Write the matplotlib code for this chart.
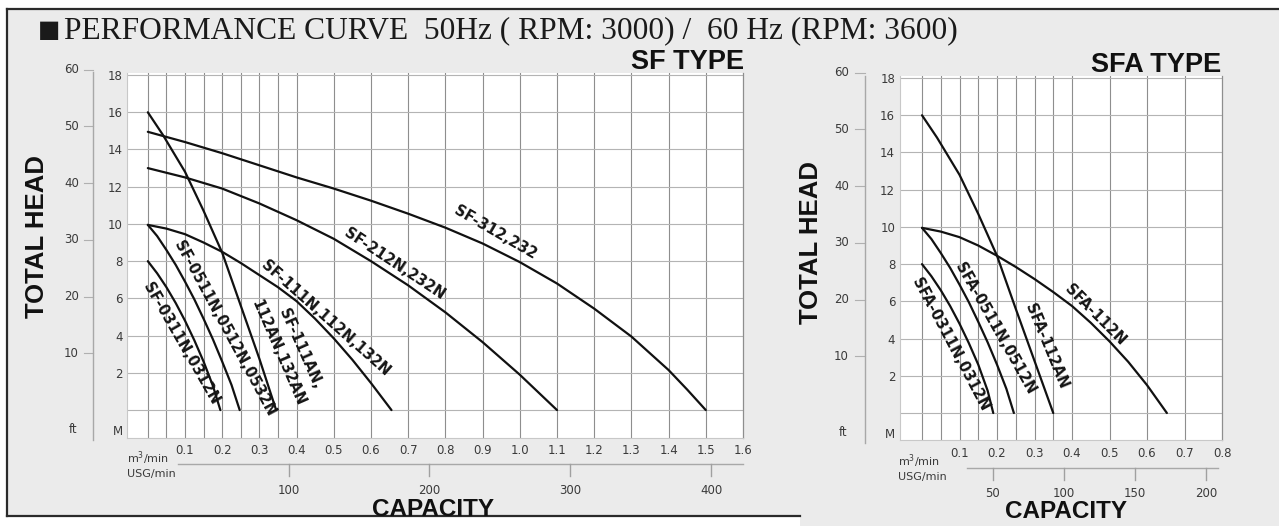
import matplotlib
matplotlib.use('Agg')
import matplotlib.pyplot as plt
from matplotlib.transforms import blended_transform_factory as blend
from matplotlib.lines import Line2D
from matplotlib.patches import Rectangle

# ---------------- data (m3/min , m) ----------------
# SF TYPE
sf312_q = [0, 0.1, 0.2, 0.3, 0.4, 0.5, 0.6, 0.7, 0.8, 0.9, 1.0, 1.1, 1.2, 1.3, 1.4, 1.45, 1.5]
sf312_h = [14.95, 14.4, 13.8, 13.15, 12.5, 11.9, 11.25, 10.55, 9.8, 8.95, 7.95, 6.8, 5.45, 3.95, 2.15, 1.1, 0]
sf212_q = [0, 0.1, 0.2, 0.3, 0.4, 0.5, 0.6, 0.7, 0.8, 0.9, 1.0, 1.05, 1.1]
sf212_h = [13.0, 12.5, 11.9, 11.1, 10.2, 9.2, 8.0, 6.7, 5.25, 3.65, 1.9, 0.95, 0]
sf111n_q = [0, 0.05, 0.1, 0.15, 0.2, 0.25, 0.3, 0.35, 0.4, 0.45, 0.5, 0.55, 0.6, 0.655]
sf111n_h = [9.95, 9.75, 9.45, 9.0, 8.5, 7.9, 7.25, 6.6, 5.85, 4.9, 3.85, 2.7, 1.45, 0]
sf111an_q = [0, 0.04, 0.1, 0.15, 0.2, 0.25, 0.3, 0.345]
sf111an_h = [16.0, 14.8, 12.8, 10.7, 8.45, 5.6, 2.75, 0]
sf0511_q = [0, 0.025, 0.05, 0.075, 0.1, 0.125, 0.15, 0.175, 0.2, 0.225, 0.247]
sf0511_h = [9.95, 9.35, 8.6, 7.8, 6.9, 5.95, 4.9, 3.8, 2.6, 1.35, 0]
sf0311_q = [0, 0.025, 0.05, 0.075, 0.1, 0.125, 0.15, 0.175, 0.195]
sf0311_h = [8.0, 7.35, 6.6, 5.75, 4.8, 3.75, 2.6, 1.3, 0]

# SFA TYPE
sfa112n_q = [0, 0.05, 0.1, 0.15, 0.2, 0.25, 0.3, 0.35, 0.4, 0.45, 0.5, 0.55, 0.6, 0.653]
sfa112n_h = [9.95, 9.75, 9.45, 9.0, 8.45, 7.85, 7.2, 6.5, 5.75, 4.85, 3.85, 2.75, 1.5, 0]
sfa112an_q = [0, 0.04, 0.1, 0.15, 0.2, 0.25, 0.3, 0.35]
sfa112an_h = [16.0, 14.8, 12.8, 10.7, 8.45, 5.6, 2.8, 0]
sfa0511_q = [0, 0.025, 0.05, 0.075, 0.1, 0.125, 0.15, 0.175, 0.2, 0.225, 0.245]
sfa0511_h = [9.95, 9.35, 8.6, 7.8, 6.9, 5.95, 4.9, 3.8, 2.6, 1.3, 0]
sfa0311_q = [0, 0.025, 0.05, 0.075, 0.1, 0.125, 0.15, 0.175, 0.19]
sfa0311_h = [8.0, 7.35, 6.6, 5.75, 4.8, 3.75, 2.6, 1.2, 0]

sf_names = ["SF-312,232", "SF-212N,232N", "SF-111N,112N,132N",
            "SF-111AN,", "112AN,132AN", "SF-0511N,0512N,0532N", "SF-0311N,0312N"]
sfa_names = ["SFA-112N", "SFA-112AN", "SFA-0511N,0512N", "SFA-0311N,0312N"]

m_ticks = [2, 4, 6, 8, 10, 12, 14, 16, 18]
ft_ticks = [10, 20, 30, 40, 50, 60]
sf_q_ticks = [0.1, 0.2, 0.3, 0.4, 0.5, 0.6, 0.7, 0.8, 0.9, 1.0, 1.1, 1.2, 1.3, 1.4, 1.5, 1.6]
sf_q_labels = ["0.1", "0.2", "0.3", "0.4", "0.5", "0.6", "0.7", "0.8", "0.9", "1.0",
               "1.1", "1.2", "1.3", "1.4", "1.5", "1.6"]
sfa_q_ticks = [0.1, 0.2, 0.3, 0.4, 0.5, 0.6, 0.7, 0.8]
sfa_q_labels = ["0.1", "0.2", "0.3", "0.4", "0.5", "0.6", "0.7", "0.8"]
sf_usg_ticks = [100, 200, 300, 400]
sfa_usg_ticks = [50, 100, 150, 200]

USG_TO_M3 = 0.0037854
FT_TO_M = 0.3048

# ---------------- figure ----------------
W, H = 1279, 526
fig = plt.figure(figsize=(W / 100, H / 100), dpi=100)
BG = '#ebebeb'
fig.patch.set_facecolor(BG)


def fx(px):
    return px / W


def fy(py):
    return 1 - py / H


# white margins and frame
fig.add_artist(Rectangle((0, fy(9)), 1, 9 / H, transform=fig.transFigure,
                         facecolor='white', edgecolor='none', zorder=0))
fig.add_artist(Rectangle((0, 0), fx(7), 1, transform=fig.transFigure,
                         facecolor='white', edgecolor='none', zorder=0))
fig.add_artist(Rectangle((0, 0), fx(800), fy(516), transform=fig.transFigure,
                         facecolor='white', edgecolor='none', zorder=0))
frame_kw = dict(transform=fig.transFigure, color='#2a2a2a', lw=1.6)
fig.add_artist(Line2D([fx(7), 1], [fy(9), fy(9)], **frame_kw))
fig.add_artist(Line2D([fx(7), fx(7)], [fy(9), fy(516)], **frame_kw))
fig.add_artist(Line2D([fx(7), fx(800)], [fy(516), fy(516)], **frame_kw))

# main title
fig.text(fx(38), fy(37), "\u25A0", fontsize=17, family='DejaVu Sans', color='#1a1a1a',
         ha='left', va='baseline')
fig.text(fx(64), fy(38), "PERFORMANCE CURVE  50Hz ( RPM: 3000) /  60 Hz (RPM: 3600)",
         fontsize=22.7, family='Liberation Serif', color='#1a1a1a', ha='left', va='baseline')

GRID_V = '#8e8e8e'
GRID_H = '#b4b4b4'


def make_panel(left, top, right, bottom, xlim, ylim, vgrid, xt, xl, ypad, xpad):
    ax = fig.add_axes([fx(left), fy(bottom), (right - left) / W, (bottom - top) / H])
    ax.set_facecolor('white')
    ax.set_xlim(*xlim)
    ax.set_ylim(*ylim)
    for v in vgrid:
        ax.axvline(v, color=GRID_V, lw=0.8, zorder=1)
    for h in [0] + m_ticks:
        ax.axhline(h, color=GRID_H, lw=0.8, zorder=1)
    for s in ['left', 'bottom']:
        ax.spines[s].set_color('#c8c8c8')
        ax.spines[s].set_linewidth(0.8)
    ax.spines['top'].set_visible(False)
    ax.spines['right'].set_color(GRID_V)
    ax.spines['right'].set_linewidth(0.9)
    ax.set_xticks(xt)
    ax.set_xticklabels(xl, fontsize=8.5, color='#3a3a3a', family='DejaVu Sans')
    ax.tick_params(axis='x', length=0, pad=xpad)
    ax.set_yticks(m_ticks + [-1.05])
    ax.set_yticklabels([str(v) for v in m_ticks] + ['M'], fontsize=8.5,
                       color='#3a3a3a', family='DejaVu Sans')
    ax.tick_params(axis='y', length=0, pad=ypad)
    return ax


def ft_axis(ax, left, width, bottom, height, lab_px, tick0_px, line_px, top_line_px, bot_line_px):
    tr = blend(ax.transAxes, ax.transData)
    f = lambda px: (px - left) / width
    for v in ft_ticks:
        m = v * FT_TO_M
        ax.text(f(lab_px), m, str(v), transform=tr, ha='right', va='center', fontsize=8.5,
                color='#3a3a3a', family='DejaVu Sans', clip_on=False)
        ax.add_line(Line2D([f(tick0_px), f(line_px)], [m, m], transform=tr, color='#b0b0b0',
                           lw=0.8, clip_on=False))
    ax.text(f(lab_px - 2), -1.05, 'ft', transform=tr, ha='right', va='center', fontsize=8.5,
            color='#3a3a3a', family='DejaVu Sans', clip_on=False)
    ax.add_line(Line2D([f(line_px), f(line_px)],
                       [(bottom - bot_line_px) / height, (bottom - top_line_px) / height],
                       transform=ax.transAxes, color='#a8a8a8', lw=1.0, clip_on=False))


def usg_axis(ax, bottom, height, line_py, q_start, q_end, usg_ticks, lab_py, left_px, unit_py):
    tr = blend(ax.transData, ax.transAxes)
    yl = (bottom - line_py) / height
    yt = (bottom - line_py - 12) / height
    ylab = (bottom - lab_py) / height
    ax.add_line(Line2D([q_start, q_end], [yl, yl], transform=tr, color='#a8a8a8', lw=1.0,
                       clip_on=False))
    for u in usg_ticks:
        q = u * USG_TO_M3
        ax.add_line(Line2D([q, q], [yl, yt], transform=tr, color='#a0a0a0', lw=1.0,
                           clip_on=False))
        ax.text(q, ylab, str(u), transform=tr, ha='center', va='center', fontsize=8.5,
                color='#3a3a3a', family='DejaVu Sans', clip_on=False)
    fig.text(fx(left_px), fy(unit_py[0]), "m$^3$/min", fontsize=8, color='#3a3a3a',
             family='DejaVu Sans', ha='left', va='center')
    fig.text(fx(left_px), fy(unit_py[1]), "USG/min", fontsize=8, color='#3a3a3a',
             family='DejaVu Sans', ha='left', va='center')


LINE_KW = dict(color='#111111', lw=1.6, zorder=3, solid_capstyle='round',
               solid_joinstyle='round')
LAB_KW = dict(fontsize=10.5, fontweight='bold', family='DejaVu Sans', color='#151515',
              ha='center', va='center', rotation_mode='anchor', zorder=4)

# ---------------- SF TYPE panel ----------------
L1, T1, R1, B1 = 127, 73, 743, 438
ax1 = make_panel(L1, T1, R1, B1, (-0.056, 1.6), (-1.50, 18.11),
                 [0, 0.05, 0.1, 0.15, 0.2, 0.25, 0.3, 0.35, 0.4, 0.5, 0.6, 0.7, 0.8, 0.9,
                  1.0, 1.1, 1.2, 1.3, 1.4, 1.5],
                 sf_q_ticks, sf_q_labels, ypad=3, xpad=4.5)
for q, h in [(sf312_q, sf312_h), (sf212_q, sf212_h), (sf111n_q, sf111n_h),
             (sf111an_q, sf111an_h), (sf0511_q, sf0511_h), (sf0311_q, sf0311_h)]:
    ax1.plot(q, h, **LINE_KW)

ax1.text(0.933, 9.55, sf_names[0], rotation=-30, **LAB_KW)
ax1.text(0.662, 7.85, sf_names[1], rotation=-33.5, **LAB_KW)
ax1.text(0.479, 4.94, sf_names[2], rotation=-41.5, **LAB_KW)
ax1.text(0.409, 3.3, sf_names[3], rotation=-66, **LAB_KW)
ax1.text(0.350, 3.06, sf_names[4], rotation=-66.5, **LAB_KW)
ax1.text(0.2075, 4.41, sf_names[5], rotation=-61.5, **LAB_KW)
ax1.text(0.089, 3.55, sf_names[6], rotation=-60, **LAB_KW)

ft_axis(ax1, L1, R1 - L1, B1, B1 - T1, lab_px=79, tick0_px=84, line_px=93,
        top_line_px=72, bot_line_px=440)
usg_axis(ax1, B1, B1 - T1, 464, 0.08, 1.6, sf_usg_ticks, 490, 127, (458, 474))

fig.text(fx(744), fy(69), "SF TYPE", fontsize=19.5, fontweight='bold', family='Liberation Sans',
         color='#111111', ha='right', va='baseline')
fig.text(fx(37), fy(236), "TOTAL HEAD", fontsize=18.5, fontweight='bold',
         family='Liberation Sans', color='#111111', ha='center', va='center', rotation=90)
fig.text(fx(433), fy(510), "CAPACITY", fontsize=17.5, fontweight='bold',
         family='Liberation Sans', color='#111111', ha='center', va='center')

# ---------------- SFA TYPE panel ----------------
L2, T2, R2, B2 = 900, 76, 1222, 440
ax2 = make_panel(L2, T2, R2, B2, (-0.0587, 0.8), (-1.45, 18.11),
                 [0, 0.05, 0.1, 0.15, 0.2, 0.25, 0.3, 0.35, 0.4, 0.5, 0.6, 0.7],
                 sfa_q_ticks, sfa_q_labels, ypad=3.5, xpad=5)
for q, h in [(sfa112n_q, sfa112n_h), (sfa112an_q, sfa112an_h), (sfa0511_q, sfa0511_h),
             (sfa0311_q, sfa0311_h)]:
    ax2.plot(q, h, **LINE_KW)

ax2.text(0.461, 5.27, sfa_names[0], rotation=-45, **LAB_KW)
ax2.text(0.331, 3.6, sfa_names[1], rotation=-67.5, **LAB_KW)
ax2.text(0.195, 4.57, sfa_names[2], rotation=-60.5, **LAB_KW)
ax2.text(0.075, 3.71, sfa_names[3], rotation=-62, **LAB_KW)

ft_axis(ax2, L2, R2 - L2, B2, B2 - T2, lab_px=849, tick0_px=855, line_px=865,
        top_line_px=76, bot_line_px=443)
usg_axis(ax2, B2, B2 - T2, 468, 0.12, 0.79, sfa_usg_ticks, 493, 898, (461, 477))

fig.text(fx(1221), fy(72), "SFA TYPE", fontsize=19.5, fontweight='bold', family='Liberation Sans',
         color='#111111', ha='right', va='baseline')
fig.text(fx(811), fy(243), "TOTAL HEAD", fontsize=18.5, fontweight='bold',
         family='Liberation Sans', color='#111111', ha='center', va='center', rotation=90)
fig.text(fx(1066), fy(512), "CAPACITY", fontsize=17.5, fontweight='bold',
         family='Liberation Sans', color='#111111', ha='center', va='center')

fig.savefig('out.png', dpi=100, facecolor=fig.get_facecolor())
